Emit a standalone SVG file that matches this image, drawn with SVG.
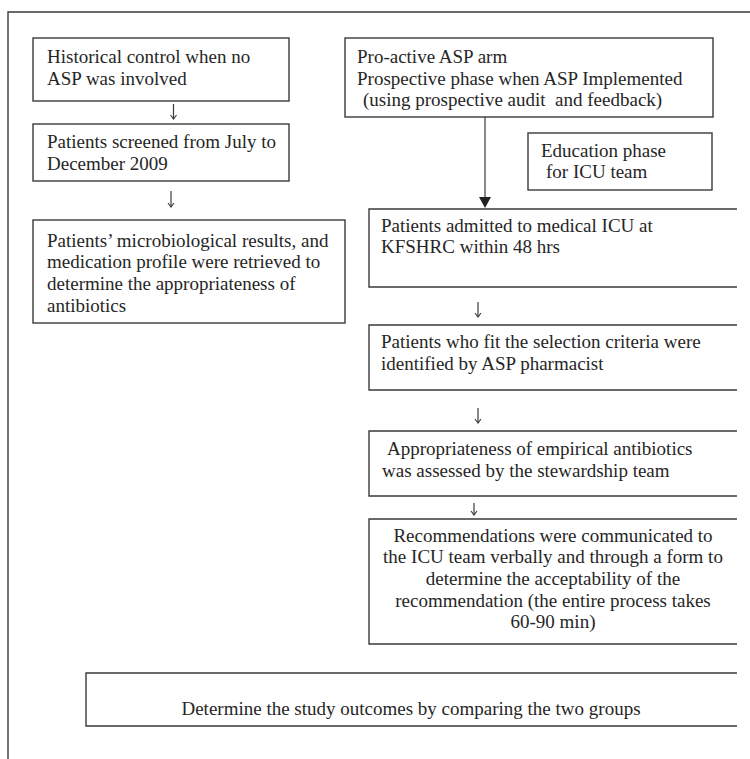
<svg xmlns="http://www.w3.org/2000/svg" width="750" height="759" viewBox="0 0 750 759">
<style>
.b{fill:none;stroke:#3a3a3a;stroke-width:1.4}
.t{font-family:"Liberation Serif","Times New Roman",serif;font-size:19px;fill:#262626;white-space:pre}
.m{text-anchor:middle}
.c{fill:none;stroke:#3a3a3a;stroke-width:1.2}
</style>
<defs>
<marker id="v" viewBox="0 0 8 8" refX="7.5" refY="4" markerWidth="8" markerHeight="8" markerUnits="userSpaceOnUse" orient="auto">
<path d="M3.5,1 L7.5,4 L3.5,7" fill="none" stroke="#3a3a3a" stroke-width="1.1"/>
</marker>
</defs>
<rect width="750" height="759" fill="#fff"/>
<g id="frame"><path class="b" d="M8,759 V12 H750"/></g>
<g id="historical"><rect class="b" x="33" y="38" width="256" height="63"/>
<text class="t" x="47" y="63">Historical control when no</text>
<text class="t" x="47" y="85">ASP was involved</text></g>
<g id="screened"><rect class="b" x="33" y="124" width="256" height="57"/>
<text class="t" x="47" y="148">Patients screened from July to</text>
<text class="t" x="47" y="170">December 2009</text></g>
<g id="retrieved"><rect class="b" x="33" y="220" width="312" height="103"/>
<text class="t" x="47" y="247">Patients’ microbiological results, and</text>
<text class="t" x="47" y="268">medication profile were retrieved to</text>
<text class="t" x="47" y="290">determine the appropriateness of</text>
<text class="t" x="47" y="312">antibiotics</text></g>
<g id="proactive"><rect class="b" x="345" y="38" width="368" height="79"/>
<text class="t" x="357" y="63">Pro-active ASP arm</text>
<text class="t" x="357" y="85">Prospective phase when ASP Implemented</text>
<text class="t" x="363" y="106" xml:space="preserve">(using prospective audit  and feedback)</text></g>
<g id="education"><rect class="b" x="528" y="133" width="184" height="57"/>
<text class="t" x="541" y="157">Education phase</text>
<text class="t" x="546" y="178">for ICU team</text></g>
<g id="admitted"><path class="b" d="M737,209 H369 V287 H737"/>
<text class="t" x="381" y="232">Patients admitted to medical ICU at</text>
<text class="t" x="381" y="253">KFSHRC within 48 hrs</text></g>
<g id="selection"><path class="b" d="M737,325 H369 V390 H737"/>
<text class="t" x="381" y="348">Patients who fit the selection criteria were</text>
<text class="t" x="381" y="370">identified by ASP pharmacist</text></g>
<g id="appropriateness"><path class="b" d="M737,431 H369 V496 H737"/>
<text class="t" x="387" y="455">Appropriateness of empirical antibiotics</text>
<text class="t" x="382" y="477">was assessed by the stewardship team</text></g>
<g id="recommendations"><path class="b" d="M737,519 H369 V644 H737"/>
<text class="t m" x="553" y="542">Recommendations were communicated to</text>
<text class="t m" x="553" y="563">the ICU team verbally and through a form to</text>
<text class="t m" x="553" y="585">determine the acceptability of the</text>
<text class="t m" x="553" y="607">recommendation (the entire process takes</text>
<text class="t m" x="553" y="628">60-90 min)</text></g>
<g id="outcomes"><path class="b" d="M737,673 H86 V726 H737"/>
<text class="t m" x="411" y="715">Determine the study outcomes by comparing the two groups</text></g>
<g id="connectors">
<path class="c" d="M173.5,104 V119" marker-end="url(#v)"/>
<path class="c" d="M171,191 V207" marker-end="url(#v)"/>
<path class="c" d="M485,117 V198"/>
<polygon points="479,197 491,197 485,208" fill="#222"/>
<path class="c" d="M478,302 V317" marker-end="url(#v)"/>
<path class="c" d="M478,408 V423" marker-end="url(#v)"/>
<path class="c" d="M474,503 V515" marker-end="url(#v)"/>
</g>
</svg>
